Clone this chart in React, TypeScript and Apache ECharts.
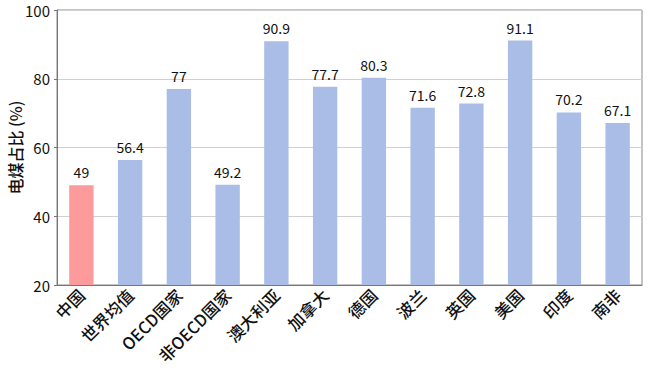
import React, { useEffect, useRef } from "react";
import * as echarts from "echarts";

const categories = ["中国", "世界均值", "OECD国家", "非OECD国家", "澳大利亚", "加拿大", "德国", "波兰", "英国", "美国", "印度", "南非"];
const values = [49, 56.4, 77, 49.2, 90.9, 77.7, 80.3, 71.6, 72.8, 91.1, 70.2, 67.1];
const highlightIndex = 0;
const yTicks = [20, 40, 60, 80, 100];

const FONT = "'Noto Sans CJK SC', 'Noto Sans', sans-serif";

export default function App() {
  const ref = useRef<HTMLDivElement>(null);
  useEffect(() => {
    if (!ref.current) return;
    const chart = echarts.init(ref.current, undefined, { renderer: "svg" });
    chart.setOption({
      animation: false,
      grid: {
        left: 57, right: 6, top: 10, bottom: 88,
        containLabel: false, outerBoundsMode: "none",
        show: true, borderColor: "#8a8a8a", borderWidth: 1,
      },
      xAxis: {
        type: "category",
        data: categories,
        axisLine: { lineStyle: { color: "#777" } },
        axisTick: { show: false },
        axisLabel: { rotate: 45, interval: 0, color: "#111", fontSize: 16.5, fontWeight: 500, fontFamily: FONT, margin: 7 },
      },
      yAxis: {
        type: "value",
        min: yTicks[0],
        max: yTicks[yTicks.length - 1],
        interval: 20,
        name: "电煤占比 (%)",
        nameLocation: "middle",
        nameRotate: 90,
        nameGap: 34,
        nameMoveOverlap: false,
        nameTextStyle: { fontSize: 16, color: "#111", fontWeight: 500, fontFamily: FONT },
        axisLine: { show: true, lineStyle: { color: "#777" } },
        axisTick: { show: true, length: 3, lineStyle: { color: "#777" } },
        axisLabel: { color: "#111", fontSize: 15, fontFamily: FONT, margin: 7 },
        splitLine: { lineStyle: { color: "#d0d0d0" } },
      },
      series: [
        {
          type: "bar",
          barWidth: "50%",
          data: values.map((v, i) => ({
            value: v,
            itemStyle: { color: i === highlightIndex ? "#fd9a9c" : "#a9bde7" },
          })),
          label: { show: true, position: "top", color: "#111", fontSize: 14, fontFamily: FONT, distance: 6 },
        },
      ],
    });
    return () => chart.dispose();
  }, []);
  return <div ref={ref} style={{ width: 648, height: 373, position: "absolute", left: 0, top: 0, background: "#fff" }} />;
}
